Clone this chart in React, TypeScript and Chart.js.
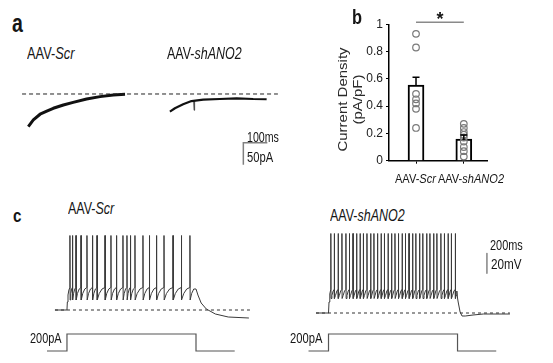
import React, { useEffect, useRef } from 'react';
import { Chart, registerables } from 'chart.js';

Chart.register(...registerables);

const FONT = '"Liberation Sans", Arial, Helvetica, sans-serif';
const TEXT = '#161616';

// ---------- Panel a : tail currents (time in ms, current in pA) ----------
const A_SCR_T = [0, 21, 49, 77, 104, 146, 187, 243, 299, 354, 403];
const A_SCR_PA = [-74, -59, -46, -39, -32.5, -25, -19, -11.4, -6, -2.3, -0.7];
const A_SH_T = [0, 21, 55, 90, 139, 208, 278, 347, 403];
const A_SH_PA = [-40, -32.5, -23.4, -16, -13, -11.4, -9.8, -11.4, -12];
const A_SH_ART_T = [99, 101, 103];
const A_SH_ART_PA = [-14.5, -37, -14.5];
const A_BASE_T = [-26, 1040];
const A_BASE_PA = [0, 0];
const A_BAR_MS = 100;
const A_BAR_PA = 50;

// ---------- Panel b : current density ----------
const B_CATEGORIES = ['AAV-Scr', 'AAV-shANO2'];
const B_MEANS = [0.555, 0.159];
const B_SEM = [0.057, 0.03];
const B_SCR_POINTS = [0.93, 0.83, 0.49, 0.45, 0.42, 0.38, 0.24];
const B_SH_POINTS = [0.27, 0.24, 0.21, 0.19, 0.17, 0.14, 0.1, 0.07, 0.03];
const B_Y_TICKS = [0, 0.2, 0.4, 0.6, 0.8, 1];
const B_SIG_LEVEL = 1.015;
const B_SIG_MARK = '*';

// ---------- Panel c : firing (time in ms, voltage in mV, step in pA) ----------
const C_STEP_T = [-155, 0, 0, 1000, 1000, 1300];
const C_STEP_PA = [0, 0, 200, 200, 0, 0];

const C_SCR_SPIKES = [23, 43, 70, 109, 155, 198, 233, 295, 341, 384, 434, 465, 492, 527, 589, 639, 694, 752, 822, 887, 953];
const C_SCR_ON_T = [-93, 0, 3, 8, 15];
const C_SCR_ON_MV = [-70, -70, -62, -55, -50];
const C_SCR_OFF_T = [1000, 1015, 1040, 1080, 1150, 1250, 1410];
const C_SCR_OFF_MV = [-49, -55, -63, -69, -74, -77, -78];
const C_SCR_PEAK = 4.5;
const C_SCR_TROUGH = -60;
const C_SCR_THR = -47.5;
const C_SCR_BASE_T = [-93, 1418];
const C_SCR_BASE_MV = [-70, -70];

const C_SH_SPIKES = [18, 45, 75, 104, 135, 162, 190, 218, 245, 270, 298, 327, 352, 380, 408, 433, 462, 489, 515, 542, 571, 596, 624, 652, 677, 706, 731, 761, 786, 815, 840, 871, 898, 927, 952, 983];
const C_SH_ON_T = [-97, 0, 4, 10];
const C_SH_ON_MV = [-73, -73, -62, -54];
const C_SH_OFF_T = [1000, 1005, 1020, 1035, 1060, 1120, 1200, 1406];
const C_SH_OFF_MV = [-58, -62, -72, -76, -76, -75, -74, -74];
const C_SH_PEAK = 6.5;
const C_SH_TROUGH = -58.5;
const C_SH_THR = -49.5;
const C_SH_BASE_T = [-97, 1406];
const C_SH_BASE_MV = [-73, -73];
const C_BAR_MV = 20;

type Pt = { x: number; y: number };
const zip = (xs: number[], ys: number[], dx = 0): Pt[] => xs.map((x, i) => ({ x: x + dx, y: ys[i] }));

function spikeTrain(onT: number[], onV: number[], spikes: number[], peak: number, trough: number, thr: number, offT: number[], offV: number[]): Pt[] {
  const pts = zip(onT, onV);
  spikes.forEach((s, i) => {
    const next = i + 1 < spikes.length ? spikes[i + 1] : offT[0];
    const gap = next - s;
    pts.push({ x: s - 0.8, y: thr });
    pts.push({ x: s, y: peak });
    pts.push({ x: s + 1.5, y: trough });
    pts.push({ x: s + 1.5 + gap * 0.25, y: thr - 6 });
    pts.push({ x: s + 1.5 + gap * 0.6, y: thr - 1.5 });
  });
  return pts.concat(zip(offT, offV));
}

const lineDs = (data: Pt[], color: string, width: number, extra: any = {}) => ({
  type: 'line' as const,
  data,
  borderColor: color,
  borderWidth: width,
  pointRadius: 0,
  tension: 0,
  fill: false,
  borderJoinStyle: 'round' as const,
  ...extra,
});

const hiddenOpts = (xr: number[], yr: number[], y2r?: number[]) => {
  const scales: any = {
    x: { type: 'linear', display: false, min: xr[0], max: xr[1] },
    y: { type: 'linear', display: false, min: yr[0], max: yr[1] },
  };
  if (y2r) scales.y2 = { type: 'linear', display: false, min: y2r[0], max: y2r[1] };
  return {
    animation: false,
    responsive: false,
    maintainAspectRatio: false,
    events: [],
    layout: { padding: 0 },
    plugins: { legend: { display: false }, tooltip: { enabled: false }, title: { display: false } },
    scales,
  };
};

function buildPanelA(): any {
  const corner = { x: 896, y: -111 };
  const shift = 590;
  return {
    type: 'line',
    data: {
      datasets: [
        lineDs(zip(A_BASE_T, A_BASE_PA), '#222', 1, { borderDash: [4, 3] }),
        lineDs(zip(A_SCR_T, A_SCR_PA), '#111', 3),
        lineDs(zip(A_SH_T, A_SH_PA, shift), '#111', 2.2),
        lineDs(zip(A_SH_ART_T, A_SH_ART_PA, shift), '#444', 1, { borderJoinStyle: 'miter' }),
        lineDs(
          [
            { x: corner.x + A_BAR_MS, y: corner.y },
            { x: corner.x, y: corner.y },
            { x: corner.x, y: corner.y - A_BAR_PA },
          ],
          '#808080',
          1.5,
          { borderJoinStyle: 'miter' }
        ),
      ],
    },
    options: hiddenOpts([-55.4, 1090.4], [-184.1, 31.8]),
  };
}

function buildPanelC(spikesPts: Pt[], base: Pt[], stepShift: number, bar?: Pt): any {
  const ds: any[] = [
    lineDs(base, '#333', 1, { borderDash: [3, 3] }),
    lineDs(spikesPts, '#3a3a3a', 1),
    lineDs(zip(C_STEP_T, C_STEP_PA, stepShift), '#555', 1.2, { yAxisID: 'y2', borderJoinStyle: 'miter' }),
  ];
  if (bar) ds.push(lineDs([bar, { x: bar.x, y: bar.y - C_BAR_MV }], '#666', 1.2));
  return ds;
}

function buildPanelCScr(): any {
  const trace = spikeTrain(C_SCR_ON_T, C_SCR_ON_MV, C_SCR_SPIKES, C_SCR_PEAK, C_SCR_TROUGH, C_SCR_THR, C_SCR_OFF_T, C_SCR_OFF_MV);
  return {
    type: 'line',
    data: { datasets: buildPanelC(trace, zip(C_SCR_BASE_T, C_SCR_BASE_MV), 0) },
    options: hiddenOpts([-209, 1496], [-120, 15], [-105.9, 1482]),
  };
}

function buildPanelCSh(): any {
  const trace = spikeTrain(C_SH_ON_T, C_SH_ON_MV, C_SH_SPIKES, C_SH_PEAK, C_SH_TROUGH, C_SH_THR, C_SH_OFF_T, C_SH_OFF_MV);
  return {
    type: 'line',
    data: { datasets: buildPanelC(trace, zip(C_SH_BASE_T, C_SH_BASE_MV), 0, { x: 1228, y: -13.3 }) },
    options: hiddenOpts([-221, 1523], [-120, 15], [-105.9, 1482]),
  };
}

const panelBPlugin = {
  id: 'panelBExtras',
  afterDatasetsDraw(chart: any) {
    const { ctx, scales } = chart;
    const xs = scales.x;
    const ys = scales.y;
    ctx.save();
    ctx.strokeStyle = '#000';
    ctx.lineWidth = 1.5;
    B_MEANS.forEach((m, i) => {
      const px = xs.getPixelForValue(i);
      const y0 = ys.getPixelForValue(m);
      const y1 = ys.getPixelForValue(m + B_SEM[i]);
      ctx.beginPath();
      ctx.moveTo(px, y0);
      ctx.lineTo(px, y1);
      ctx.moveTo(px - 3.5, y1);
      ctx.lineTo(px + 3.5, y1);
      ctx.stroke();
    });
    ctx.restore();
  },
  afterDraw(chart: any) {
    const { ctx, scales, chartArea } = chart;
    const xs = scales.x;
    const ys = scales.y;
    const p0 = xs.getPixelForValue(0);
    const p1 = xs.getPixelForValue(1);
    ctx.save();
    const sy = ys.getPixelForValue(B_SIG_LEVEL);
    ctx.strokeStyle = '#8a8a8a';
    ctx.lineWidth = 1.5;
    ctx.beginPath();
    ctx.moveTo(p0, sy);
    ctx.lineTo(p1, sy);
    ctx.stroke();
    ctx.fillStyle = TEXT;
    ctx.font = `bold 18px ${FONT}`;
    ctx.textAlign = 'center';
    ctx.textBaseline = 'alphabetic';
    ctx.fillText(B_SIG_MARK, (p0 + p1) / 2, sy + 2.5);

    const mid = (p0 + p1) / 2;
    const base = chartArea.bottom + 21.8;
    const sx = 0.85;
    B_CATEGORIES.forEach((cat, i) => {
      const k = cat.indexOf('-') + 1;
      const a = cat.slice(0, k);
      const b = cat.slice(k);
      ctx.font = `13px ${FONT}`;
      const wa = ctx.measureText(a).width;
      ctx.font = `italic 13px ${FONT}`;
      const wb = ctx.measureText(b).width;
      const total = (wa + wb) * sx;
      const start = i === 0 ? mid - 4 - total : mid - 2;
      ctx.save();
      ctx.translate(start, base);
      ctx.scale(sx, 1);
      ctx.textAlign = 'left';
      ctx.font = `13px ${FONT}`;
      ctx.fillText(a, 0, 0);
      ctx.font = `italic 13px ${FONT}`;
      ctx.fillText(b, wa, 0);
      ctx.restore();
    });

    ctx.save();
    ctx.translate(14, (chartArea.top + chartArea.bottom) / 2 + 7);
    ctx.rotate(-Math.PI / 2);
    ctx.scale(1, 0.82);
    ctx.font = `15px ${FONT}`;
    ctx.fillStyle = '#2a2a2a';
    ctx.textAlign = 'center';
    ctx.textBaseline = 'middle';
    ctx.fillText('Current Density', 0, 0);
    ctx.fillText('(pA/pF)', 0, 15 / 0.82);
    ctx.restore();
    ctx.restore();
  },
};

function buildPanelB(): any {
  return {
    type: 'bar',
    data: {
      datasets: [
        {
          type: 'scatter',
          order: 0,
          data: [...B_SCR_POINTS.map((v) => ({ x: 0, y: v })), ...B_SH_POINTS.map((v) => ({ x: 1, y: v }))],
          pointRadius: 3.3,
          pointBorderWidth: 1.2,
          pointBorderColor: '#7a7a7a',
          pointBackgroundColor: 'rgba(255,255,255,0)',
        },
        {
          type: 'bar',
          order: 1,
          data: B_MEANS.map((m, i) => ({ x: i, y: m })),
          backgroundColor: '#fff',
          borderColor: '#000',
          borderWidth: 2,
          barThickness: 16,
        },
      ],
    },
    options: {
      animation: false,
      responsive: false,
      maintainAspectRatio: false,
      events: [],
      layout: { padding: { top: 24.3, right: 66, left: 0, bottom: 0 } },
      plugins: { legend: { display: false }, tooltip: { enabled: false }, title: { display: false } },
      scales: {
        x: {
          type: 'linear',
          min: -0.565,
          max: 1.485,
          offset: false,
          afterFit: (s: any) => {
            s.height = 34.3;
          },
          afterBuildTicks: (s: any) => {
            s.ticks = B_CATEGORIES.map((_, i) => ({ value: i }));
          },
          ticks: { display: false },
          grid: { offset: false, drawOnChartArea: false, drawTicks: true, tickLength: 3, color: '#000', lineWidth: 1 },
          border: { display: true, color: '#000', width: 1.5 },
        },
        y: {
          type: 'linear',
          min: 0,
          max: 1,
          afterFit: (s: any) => {
            s.width = 59;
          },
          afterBuildTicks: (s: any) => {
            s.ticks = B_Y_TICKS.map((v) => ({ value: v }));
          },
          ticks: {
            padding: 3,
            color: '#222',
            font: { size: 12, family: FONT },
            callback: (v: any) => String(Math.round(Number(v) * 10) / 10),
          },
          grid: { drawOnChartArea: false, drawTicks: true, tickLength: 3, color: '#000', lineWidth: 1 },
          border: { display: true, color: '#000', width: 1.5 },
        },
      },
    },
    plugins: [panelBPlugin],
  };
}

function ChartBox({ left, top, width, height, build }: { left: number; top: number; width: number; height: number; build: () => any }) {
  const ref = useRef<HTMLCanvasElement>(null);
  useEffect(() => {
    const chart = new Chart(ref.current as HTMLCanvasElement, build());
    return () => chart.destroy();
  }, []);
  return <canvas ref={ref} width={width} height={height} style={{ position: 'absolute', left, top, width, height }} />;
}

function Label({ x, base, size, bold = false, sx = 0.8, parts }: { x: number; base: number; size: number; bold?: boolean; sx?: number; parts: [string, boolean][] }) {
  return (
    <div
      style={{
        position: 'absolute',
        left: x,
        top: base - 0.8465 * size,
        fontSize: size,
        lineHeight: `${size}px`,
        fontWeight: bold ? 'bold' : 'normal',
        whiteSpace: 'nowrap',
        transform: `scaleX(${sx})`,
        transformOrigin: 'left top',
        color: TEXT,
        fontFamily: FONT,
      }}
    >
      {parts.map(([t, it], i) => (
        <span key={i} style={{ fontStyle: it ? 'italic' : 'normal' }}>
          {t}
        </span>
      ))}
    </div>
  );
}

export default function App() {
  return (
    <div style={{ position: 'fixed', left: 0, top: 0, width: 553, height: 363, background: '#fff', overflow: 'hidden' }}>
      <ChartBox left={15} top={80} width={275} height={95} build={buildPanelA} />
      <ChartBox left={330} top={0} width={223} height={195} build={buildPanelB} />
      <ChartBox left={40} top={225} width={220} height={135} build={buildPanelCScr} />
      <ChartBox left={300} top={225} width={225} height={135} build={buildPanelCSh} />

      <Label x={12} base={32} size={26} bold sx={0.75} parts={[['a', false]]} />
      <Label x={352} base={24} size={20} bold sx={0.82} parts={[['b', false]]} />
      <Label x={13} base={222} size={19} bold sx={0.8} parts={[['c', false]]} />

      <Label x={27} base={59.5} size={16} sx={0.8} parts={[['AAV-', false], ['Scr', true]]} />
      <Label x={167} base={59.5} size={16} sx={0.78} parts={[['AAV-', false], ['shANO2', true]]} />
      <Label x={247} base={141.7} size={14} sx={0.76} parts={[['100ms', false]]} />
      <Label x={247} base={161.5} size={14} sx={0.8} parts={[['50pA', false]]} />

      <Label x={68} base={215} size={16} sx={0.78} parts={[['AAV-', false], ['Scr', true]]} />
      <Label x={330} base={221.5} size={16} sx={0.78} parts={[['AAV-', false], ['shANO2', true]]} />
      <Label x={490} base={250} size={14} sx={0.78} parts={[['200ms', false]]} />
      <Label x={491} base={268.5} size={15} sx={0.78} parts={[['20mV', false]]} />
      <Label x={30} base={343.3} size={14} sx={0.78} parts={[['200pA', false]]} />
      <Label x={290} base={343.3} size={14} sx={0.8} parts={[['200pA', false]]} />
    </div>
  );
}
